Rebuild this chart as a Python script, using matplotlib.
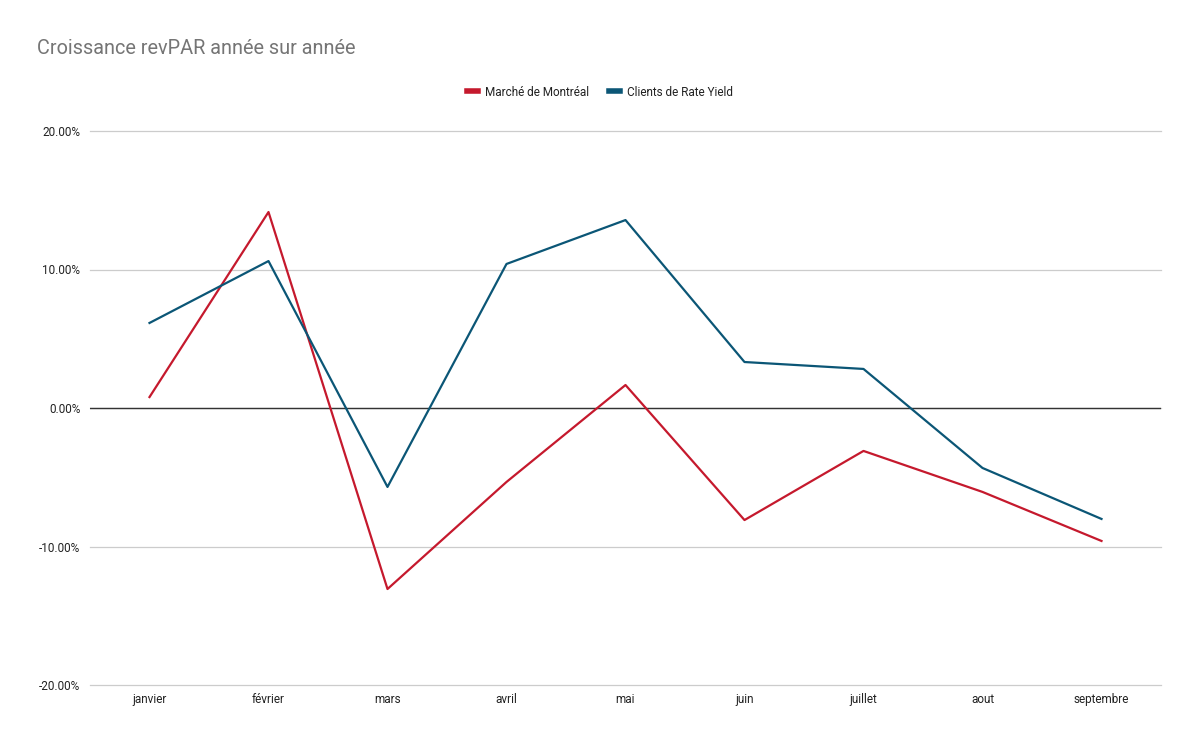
import matplotlib
matplotlib.use("Agg")
import matplotlib.pyplot as plt
from matplotlib.ticker import FuncFormatter, FixedLocator

plt.rcParams['font.family'] = ['Roboto', 'DejaVu Sans']

months = ["janvier", "février", "mars", "avril", "mai", "juin", "juillet", "aout", "septembre"]
marche_montreal = [0.79, 14.15, -13.07, -5.34, 1.66, -8.09, -3.10, -6.06, -9.60]
clients_rate_yield = [6.14, 10.61, -5.70, 10.40, 13.57, 3.32, 2.82, -4.33, -8.01]
yticks = [-20, -10, 0, 10, 20]

W, H = 1199, 743
fig = plt.figure(figsize=(W / 100, H / 100), dpi=100)
ax = fig.add_axes([90 / W, 1 - 685 / H, (1161 - 90) / W, (685 - 131) / H])

x = list(range(len(months)))
ax.plot(x, marche_montreal, color="#c5192d", lw=1.6, label="Marché de Montréal", zorder=3)
ax.plot(x, clients_rate_yield, color="#0b5676", lw=1.6, label="Clients de Rate Yield", zorder=3)

ax.set_xlim(-0.5, len(months) - 0.5)
ax.set_ylim(-20, 20)
ax.yaxis.set_major_locator(FixedLocator(yticks))
ax.yaxis.set_major_formatter(FuncFormatter(lambda v, p: f"{v:.2f}%"))
ax.set_xticks(x)
ax.set_xticklabels(months)
ax.tick_params(axis='both', length=0, labelsize=8.5, colors="#222222")
ax.tick_params(axis='y', pad=7)
ax.tick_params(axis='x', pad=6)
for s in ax.spines.values():
    s.set_visible(False)
ax.grid(axis='y', color="#cccccc", lw=0.9, zorder=0)
for gl in ax.get_ygridlines():
    gl.set_clip_on(False)
ax.axhline(0, color="#333333", lw=1.0, zorder=2)

fig.text(37 / W, 1 - 48 / H, "Croissance revPAR année sur année", fontsize=14.3,
         color="#757575", va="center", ha="left")

leg = fig.legend(loc="center", bbox_to_anchor=(600 / W, 1 - 92 / H), ncol=2, frameon=False,
                 fontsize=8.5, handlelength=1.0, handletextpad=0.6, columnspacing=1.6)
for line in leg.get_lines():
    line.set_linewidth(4)
for t in leg.get_texts():
    t.set_color("#222222")

fig.savefig("out.png", dpi=100, facecolor="white")
